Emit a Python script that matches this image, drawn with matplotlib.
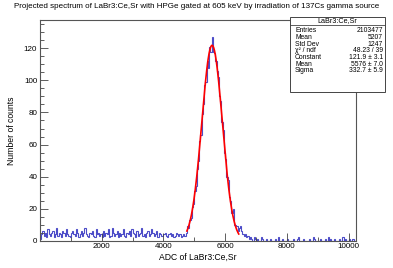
import numpy as np
from matplotlib import pyplot as plt
from matplotlib.ticker import MultipleLocator, FuncFormatter

plt.rcParams['font.family'] = ['Liberation Sans', 'DejaVu Sans']

# histogram: 256 bins of 40 ADC channels, 0..10240
bin_width = 40
background = [1, 4, 6, 3, 5, 2, 7, 4, 3, 5,
              6, 2, 4, 8, 3, 5, 4, 2, 6, 5,
              3, 7, 4, 3, 2, 5, 6, 4, 3, 7,
              5, 2, 4, 6, 3, 5, 8, 4, 3, 2,
              5, 4, 6, 3, 2, 7, 4, 5, 3, 4,
              2, 6, 3, 5, 4, 7, 2, 3, 8, 5,
              3, 4, 6, 2, 5, 3, 4, 7, 3, 2,
              5, 4, 6, 3, 7, 5, 4, 2, 6, 3,
              4, 5, 8, 3, 4, 2, 5, 6, 3, 4,
              7, 5, 3, 4, 6, 2, 5, 4, 3, 3,
              4, 5, 3, 2, 4, 5, 3, 4, 2, 3,
              5, 4, 3, 4, 2, 3, 4, 3, 5]
peak = [9, 8, 13, 14, 21, 23, 31, 34, 45, 50,
        62, 66, 79, 85, 97, 99, 112, 108, 121, 118,
        127, 118, 117, 112, 106, 102, 90, 87, 74, 69,
        55, 51, 40, 38, 27, 25, 17, 20, 10, 10,
        9, 6]
tail = [8, 9, 6, 4, 3, 4, 2, 3, 1, 2,
        1, 0, 2, 1, 0, 1, 0, 0, 2, 1,
        0, 0, 1, 0, 0, 1, 0, 0, 0, 1,
        0, 0, 2, 0, 0, 1, 0, 0, 0, 1,
        0, 0, 0, 0, 1, 0, 0, 1, 2, 0,
        0, 0, 1, 0, 0, 0, 0, 1, 0, 0,
        2, 1, 0, 0, 0, 0, 1, 0, 0, 0,
        1, 0, 2, 0, 1, 0, 0, 1, 0, 0,
        0, 1, 0, 0, 2, 0, 1, 0, 0, 1,
        0, 0, 1, 0, 0]

# gaussian fit results (from stats box)
fit_const = 121.9
fit_mean = 5576
fit_sigma = 332.7
fit_range = (4760, 6440)

stats_rows = [('Entries', '2103477'), ('Mean', '5207'), ('Std Dev', '1247'),
              ('χ² / ndf', '48.23 / 39'), ('Constant', '121.9 ± 3.1'),
              ('Mean', '5576 ± 7.0'), ('Sigma', '332.7 ± 5.9')]

counts = np.array(background + peak + tail)
edges = np.arange(len(counts) + 1) * bin_width

fig = plt.figure(figsize=(3.93, 2.68), dpi=100)
ax = fig.add_axes([40 / 393, 1 - 240.7 / 268, 316 / 393, 220.7 / 268])

ax.stairs(counts, edges, color='#4c4cc8', linewidth=0.8)

xf = np.linspace(fit_range[0], fit_range[1], 300)
yf = fit_const * np.exp(-0.5 * ((xf - fit_mean) / fit_sigma) ** 2)
ax.plot(xf, yf, color='red', linewidth=1.2)

ax.set_xlim(0, 10240)
ax.set_ylim(0, 137.7)
ax.xaxis.set_major_locator(MultipleLocator(2000))
ax.xaxis.set_minor_locator(MultipleLocator(1000))
ax.xaxis.set_major_formatter(FuncFormatter(lambda v, p: '' if v == 0 else '%d' % v))
ax.yaxis.set_major_locator(MultipleLocator(20))
ax.yaxis.set_minor_locator(MultipleLocator(5))
ax.tick_params(which='both', direction='in', labelsize=5.8, pad=2,
               color='#444444', width=0.6)
ax.tick_params(which='major', length=6)
ax.tick_params(which='minor', length=3)
for s in ax.spines.values():
    s.set_linewidth(0.8)
    s.set_color('#555555')

ax.set_xlabel('ADC of LaBr3:Ce,Sr', fontsize=6.2, labelpad=2)
ax.set_ylabel('Number of counts', fontsize=6.2, labelpad=6)
fig.text(0.5, 1 - 6 / 268, 'Projected spectrum of LaBr3:Ce,Sr with HPGe gated at 605 keV '
         'by irradiation of 137Cs gamma source', ha='center', va='center', fontsize=5.8)

# stats box
bx0, bx1, by0, by1 = 290 / 393, 385 / 393, 1 - 92 / 268, 1 - 17 / 268
fig.patches.append(plt.Rectangle((bx0, by0), bx1 - bx0, by1 - by0,
                                 transform=fig.transFigure, facecolor='white',
                                 edgecolor='#444444', linewidth=0.7, zorder=5))
fig.add_artist(plt.Line2D([bx0, bx1], [1 - 25 / 268] * 2, color='#444444',
                          linewidth=0.6, zorder=6))
fig.text((bx0 + bx1) / 2, 1 - 20.9 / 268, 'LaBr3:Ce,Sr', ha='center', va='center',
         fontsize=5.2, zorder=7)
for i, (name, val) in enumerate(stats_rows):
    yy = 1 - (30.9 + i * 6.67) / 268
    fig.text(295 / 393, yy, name, ha='left', va='center', fontsize=4.9, zorder=7)
    fig.text(383 / 393, yy, val, ha='right', va='center', fontsize=4.9, zorder=7)

fig.savefig('out.png', dpi=100)
